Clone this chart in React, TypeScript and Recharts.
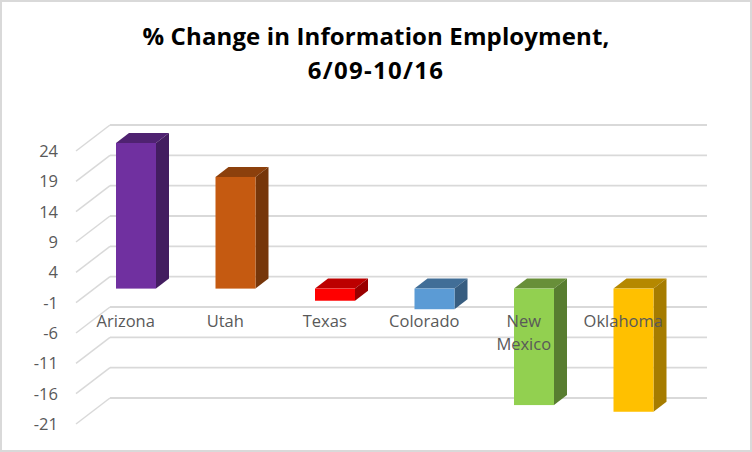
import React from 'react';
import { Bar, BarChart, CartesianGrid, Cell, XAxis, YAxis } from 'recharts';

const states = ['Arizona', 'Utah', 'Texas', 'Colorado', 'New Mexico', 'Oklahoma'];
const changes = [24, 18.4, -2, -3.4, -19.2, -20.3];
const yTicks = [-21, -16, -11, -6, -1, 4, 9, 14, 19, 24];

const frontColors = ['#7030A0', '#C55A11', '#FF0000', '#5B9BD5', '#92D050', '#FFC000'];
const topColors = ['#4F2271', '#8C400C', '#BC0000', '#416E97', '#688F39', '#B58800'];
const sideColors = ['#431D60', '#76360A', '#990000', '#375D80', '#587D30', '#A67C00'];

const data = states.map((state, i) => ({ state, change: changes[i] }));

// floor depth of the fake 3d box, and how far the bars sit into it
const WALL_DX = 34;
const WALL_DY = -26;
const BAR_SHIFT_X = 10;
const BAR_SHIFT_Y = -8;
const BAR_DX = 13;
const BAR_DY = -10;

function WallLine(props: any) {
  const { x1, x2, y1 } = props;
  return (
    <g>
      <line x1={x1} y1={y1} x2={x1 + WALL_DX} y2={y1 + WALL_DY} stroke="#D9D9D9" strokeWidth={1.5} />
      <line x1={x1 + WALL_DX} y1={y1 + WALL_DY} x2={x2 + WALL_DX} y2={y1 + WALL_DY} stroke="#D9D9D9" strokeWidth={1.8} />
    </g>
  );
}

function Box3D(props: any) {
  const { x, y, width, height, index } = props;
  const left = x + BAR_SHIFT_X;
  const right = left + width;
  const top = Math.min(y, y + height) + BAR_SHIFT_Y;
  const bottom = Math.max(y, y + height) + BAR_SHIFT_Y;
  return (
    <g>
      <polygon
        points={`${left},${top} ${left + BAR_DX},${top + BAR_DY} ${right + BAR_DX},${top + BAR_DY} ${right},${top}`}
        fill={topColors[index]}
      />
      <polygon
        points={`${right},${top} ${right + BAR_DX},${top + BAR_DY} ${right + BAR_DX},${bottom + BAR_DY} ${right},${bottom}`}
        fill={sideColors[index]}
      />
      <rect x={left} y={top} width={width} height={bottom - top} fill={frontColors[index]} />
    </g>
  );
}

function StateTick(props: any) {
  const { x, payload } = props;
  const words = payload.value === 'New Mexico' ? ['New', 'Mexico'] : [payload.value];
  return (
    <text textAnchor="middle" fill="#595959" fontSize={16.5} fontFamily="Open Sans">
      {words.map((w: string, i: number) => (
        <tspan key={w} x={x} y={327 + i * 23}>
          {w}
        </tspan>
      ))}
    </text>
  );
}

export default function App() {
  return (
    <div
      style={{
        position: 'absolute',
        left: 0,
        top: 0,
        width: 752,
        height: 452,
        boxSizing: 'border-box',
        border: '2px solid #D9D9D9',
        background: '#fff',
      }}
    >
      <div
        style={{
          position: 'absolute',
          left: -2,
          top: 17,
          width: 752,
          textAlign: 'center',
          fontFamily: 'Open Sans',
          fontWeight: 700,
          fontSize: 24,
          lineHeight: '34px',
          letterSpacing: 0.12,
          color: '#000',
        }}
      >
        % Change in Information Employment,
        <br />
        <span style={{ letterSpacing: 1.3 }}>6/09-10/16</span>
      </div>
      <div style={{ position: 'absolute', left: -2, top: -2 }}>
        <BarChart
          width={752}
          height={452}
          data={data}
          barSize={40}
          margin={{ top: 151, right: 79, bottom: 8, left: 36 }}
        >
          <CartesianGrid vertical={false} horizontal={(p: any) => <WallLine key={p.key} {...p} />} />
          <XAxis dataKey="state" axisLine={false} tickLine={false} tick={StateTick} interval={0} height={20} />
          <YAxis
            domain={[-21, 24]}
            ticks={yTicks}
            width={40}
            axisLine={false}
            tickLine={false}
            tickMargin={12}
            tick={{ fill: '#595959', fontSize: 16.5, fontFamily: 'Open Sans' }}
          />
          <Bar dataKey="change" shape={Box3D} isAnimationActive={false}>
            {data.map((d, i) => (
              <Cell key={d.state} fill={frontColors[i]} />
            ))}
          </Bar>
        </BarChart>
      </div>
    </div>
  );
}
